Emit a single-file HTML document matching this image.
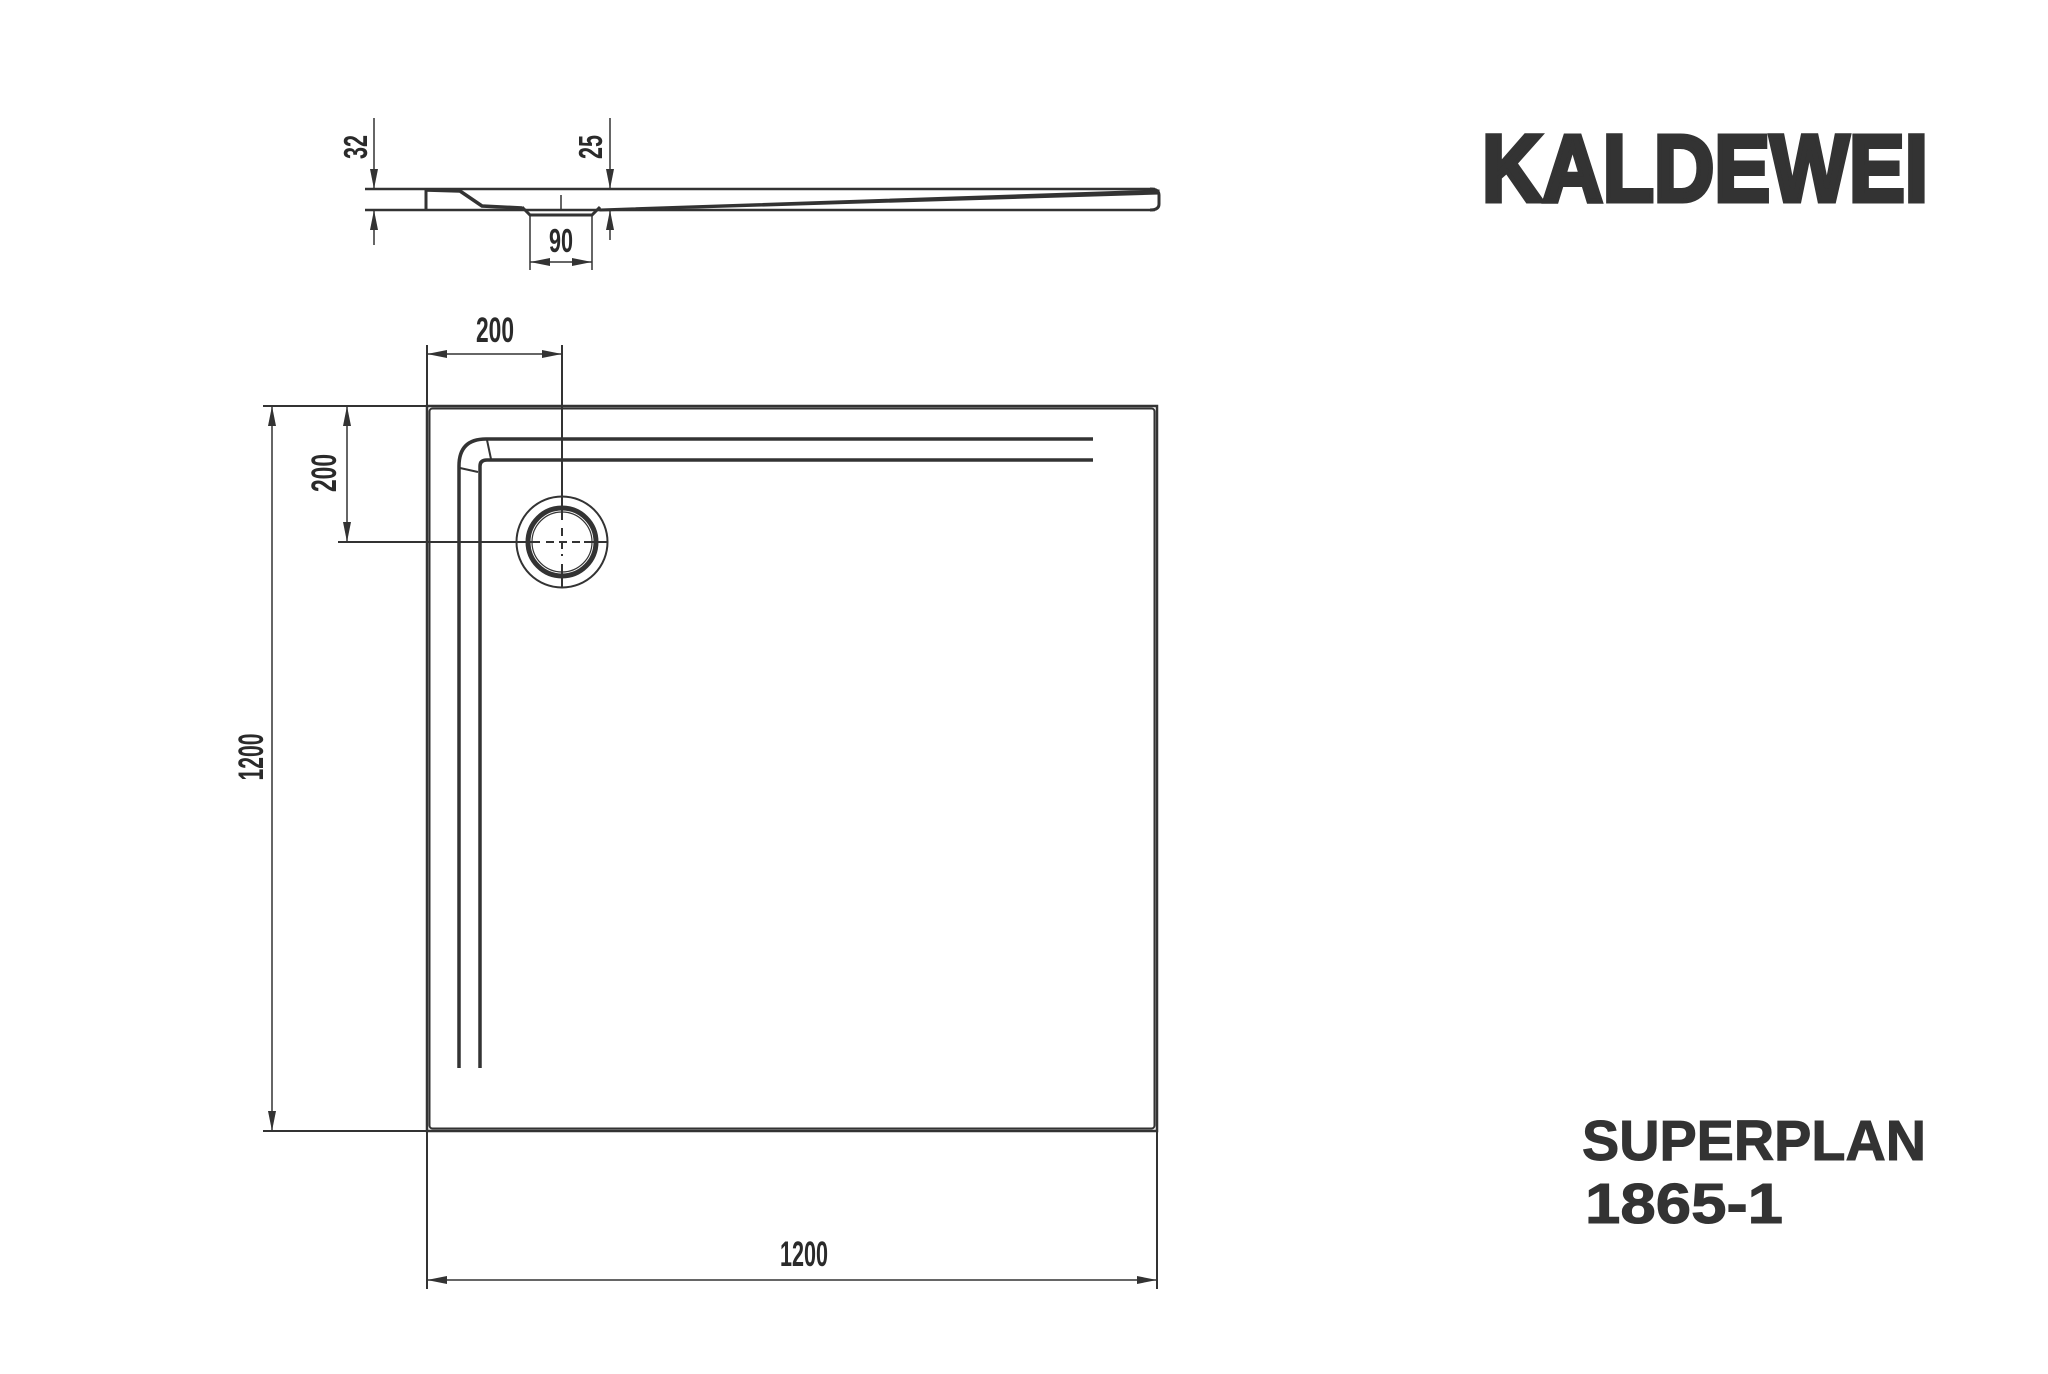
<!DOCTYPE html>
<html><head><meta charset="utf-8"><style>
html,body{margin:0;padding:0;background:#fff;}
svg{display:block;}
.d{font-family:"Liberation Sans",sans-serif;font-weight:bold;fill:#2a2a2a;}
</style></head><body>
<svg width="2048" height="1374" viewBox="0 0 2048 1374" xmlns="http://www.w3.org/2000/svg">
<defs>
<marker id="a" viewBox="0 0 20 8" refX="20" refY="4" markerWidth="20" markerHeight="8" markerUnits="userSpaceOnUse" orient="auto-start-reverse"><path d="M0,0 L20,4 L0,8 Z" fill="#333"/></marker>
</defs>
<g stroke="#333" fill="none" stroke-width="2">
<!-- side view -->
<line x1="365" y1="189" x2="1155" y2="189" stroke-width="2.5"/>
<line x1="365" y1="210" x2="1155" y2="210" stroke-width="2.5"/>
<path d="M1150,189 Q1159,189 1159,195 L1159,204 Q1159,210 1150,210" stroke-width="3"/>
<line x1="426" y1="189" x2="426" y2="210" stroke-width="3"/>
<path d="M426,190 L460,191 L482,206 L522,208" stroke-width="3.5"/>
<path d="M522,207 L530,215 L592,215 L600,207" stroke-width="3"/>
<path d="M600,209 L1159,190 L1159,194 L600,211 Z" fill="#333" stroke-width="1"/>
<line x1="561" y1="195" x2="561" y2="210" stroke-width="1.5"/>
<line x1="374" y1="118" x2="374" y2="189" marker-end="url(#a)" stroke-width="1.5"/>
<line x1="374" y1="245" x2="374" y2="210" marker-end="url(#a)" stroke-width="1.5"/>
<line x1="610" y1="118" x2="610" y2="189" marker-end="url(#a)" stroke-width="1.5"/>
<line x1="610" y1="240" x2="610" y2="210" marker-end="url(#a)" stroke-width="1.5"/>
<line x1="530" y1="215" x2="530" y2="270" stroke-width="1.5"/>
<line x1="592" y1="215" x2="592" y2="270" stroke-width="1.5"/>
<line x1="530" y1="262" x2="592" y2="262" marker-start="url(#a)" marker-end="url(#a)" stroke-width="1.5"/>

<!-- plan view outline -->
<rect x="427" y="406" width="730" height="725" stroke-width="2.5"/>
<rect x="429.5" y="408.5" width="725" height="720" rx="3" stroke-width="2"/>
<!-- channel -->
<path d="M459,1068 L459,466 Q459,439 486,439 L1093,439" stroke-width="3.5"/>
<path d="M480,1068 L480,466 Q480,460 487,460 L1093,460" stroke-width="3.5"/>
<line x1="487" y1="440" x2="491" y2="459" stroke-width="2"/>
<line x1="460" y1="468" x2="478" y2="472" stroke-width="2"/>
<!-- drain -->
<circle cx="562" cy="542" r="45.5" stroke-width="2"/>
<circle cx="562" cy="542" r="34" stroke-width="5"/>
<circle cx="562" cy="542" r="30" stroke-width="1.2"/>
<line x1="562" y1="345" x2="562" y2="520" stroke-width="2"/>
<line x1="562" y1="528" x2="562" y2="556" stroke-width="2" stroke-dasharray="8,5"/>
<line x1="562" y1="564" x2="562" y2="588" stroke-width="2"/>
<line x1="338" y1="542" x2="540" y2="542" stroke-width="2"/>
<line x1="546" y1="542" x2="580" y2="542" stroke-width="2" stroke-dasharray="8,5"/>
<line x1="584" y1="542" x2="607" y2="542" stroke-width="2"/>
<!-- dims -->
<line x1="427" y1="345" x2="427" y2="406" stroke-width="2"/>
<line x1="427" y1="354" x2="562" y2="354" marker-start="url(#a)" marker-end="url(#a)" stroke-width="1.5"/>
<line x1="263" y1="406" x2="427" y2="406" stroke-width="2"/>
<line x1="347" y1="406" x2="347" y2="542" marker-start="url(#a)" marker-end="url(#a)" stroke-width="1.5"/>
<line x1="272" y1="406" x2="272" y2="1131" marker-start="url(#a)" marker-end="url(#a)" stroke-width="1.5"/>
<line x1="263" y1="1131" x2="427" y2="1131" stroke-width="2"/>
<line x1="427" y1="1131" x2="427" y2="1289" stroke-width="2"/>
<line x1="1157" y1="1131" x2="1157" y2="1289" stroke-width="2"/>
<line x1="427" y1="1280" x2="1157" y2="1280" marker-start="url(#a)" marker-end="url(#a)" stroke-width="1.5"/>
</g>
<!-- dim texts -->
<text class="d" x="561" y="252" font-size="33" text-anchor="middle" textLength="24" lengthAdjust="spacingAndGlyphs">90</text>
<text class="d" x="495" y="342" font-size="35" text-anchor="middle" textLength="38" lengthAdjust="spacingAndGlyphs">200</text>
<text class="d" x="804" y="1266" font-size="35" text-anchor="middle" textLength="48" lengthAdjust="spacingAndGlyphs">1200</text>
<text class="d" transform="translate(367,147) rotate(-90)" font-size="33" text-anchor="middle" textLength="24" lengthAdjust="spacingAndGlyphs">32</text>
<text class="d" transform="translate(602,147) rotate(-90)" font-size="33" text-anchor="middle" textLength="24" lengthAdjust="spacingAndGlyphs">25</text>
<text class="d" transform="translate(336,473) rotate(-90)" font-size="35" text-anchor="middle" textLength="38" lengthAdjust="spacingAndGlyphs">200</text>
<text class="d" transform="translate(263,757) rotate(-90)" font-size="35" text-anchor="middle" textLength="47" lengthAdjust="spacingAndGlyphs">1200</text>
<!-- brand -->
<text x="1482" y="201" font-family="Liberation Sans,sans-serif" font-weight="bold" font-size="95" fill="#333" stroke="#333" stroke-width="5" textLength="446" lengthAdjust="spacingAndGlyphs">KALDEWEI</text>
<text x="1582" y="1160" font-family="Liberation Sans,sans-serif" font-weight="bold" font-size="57" fill="#333" stroke="#333" stroke-width="1" textLength="344" lengthAdjust="spacingAndGlyphs">SUPERPLAN</text>
<text x="1585" y="1223" font-family="Liberation Sans,sans-serif" font-weight="bold" font-size="57" fill="#333" stroke="#333" stroke-width="1" textLength="198" lengthAdjust="spacingAndGlyphs">1865-1</text>
</svg>
</body></html>
